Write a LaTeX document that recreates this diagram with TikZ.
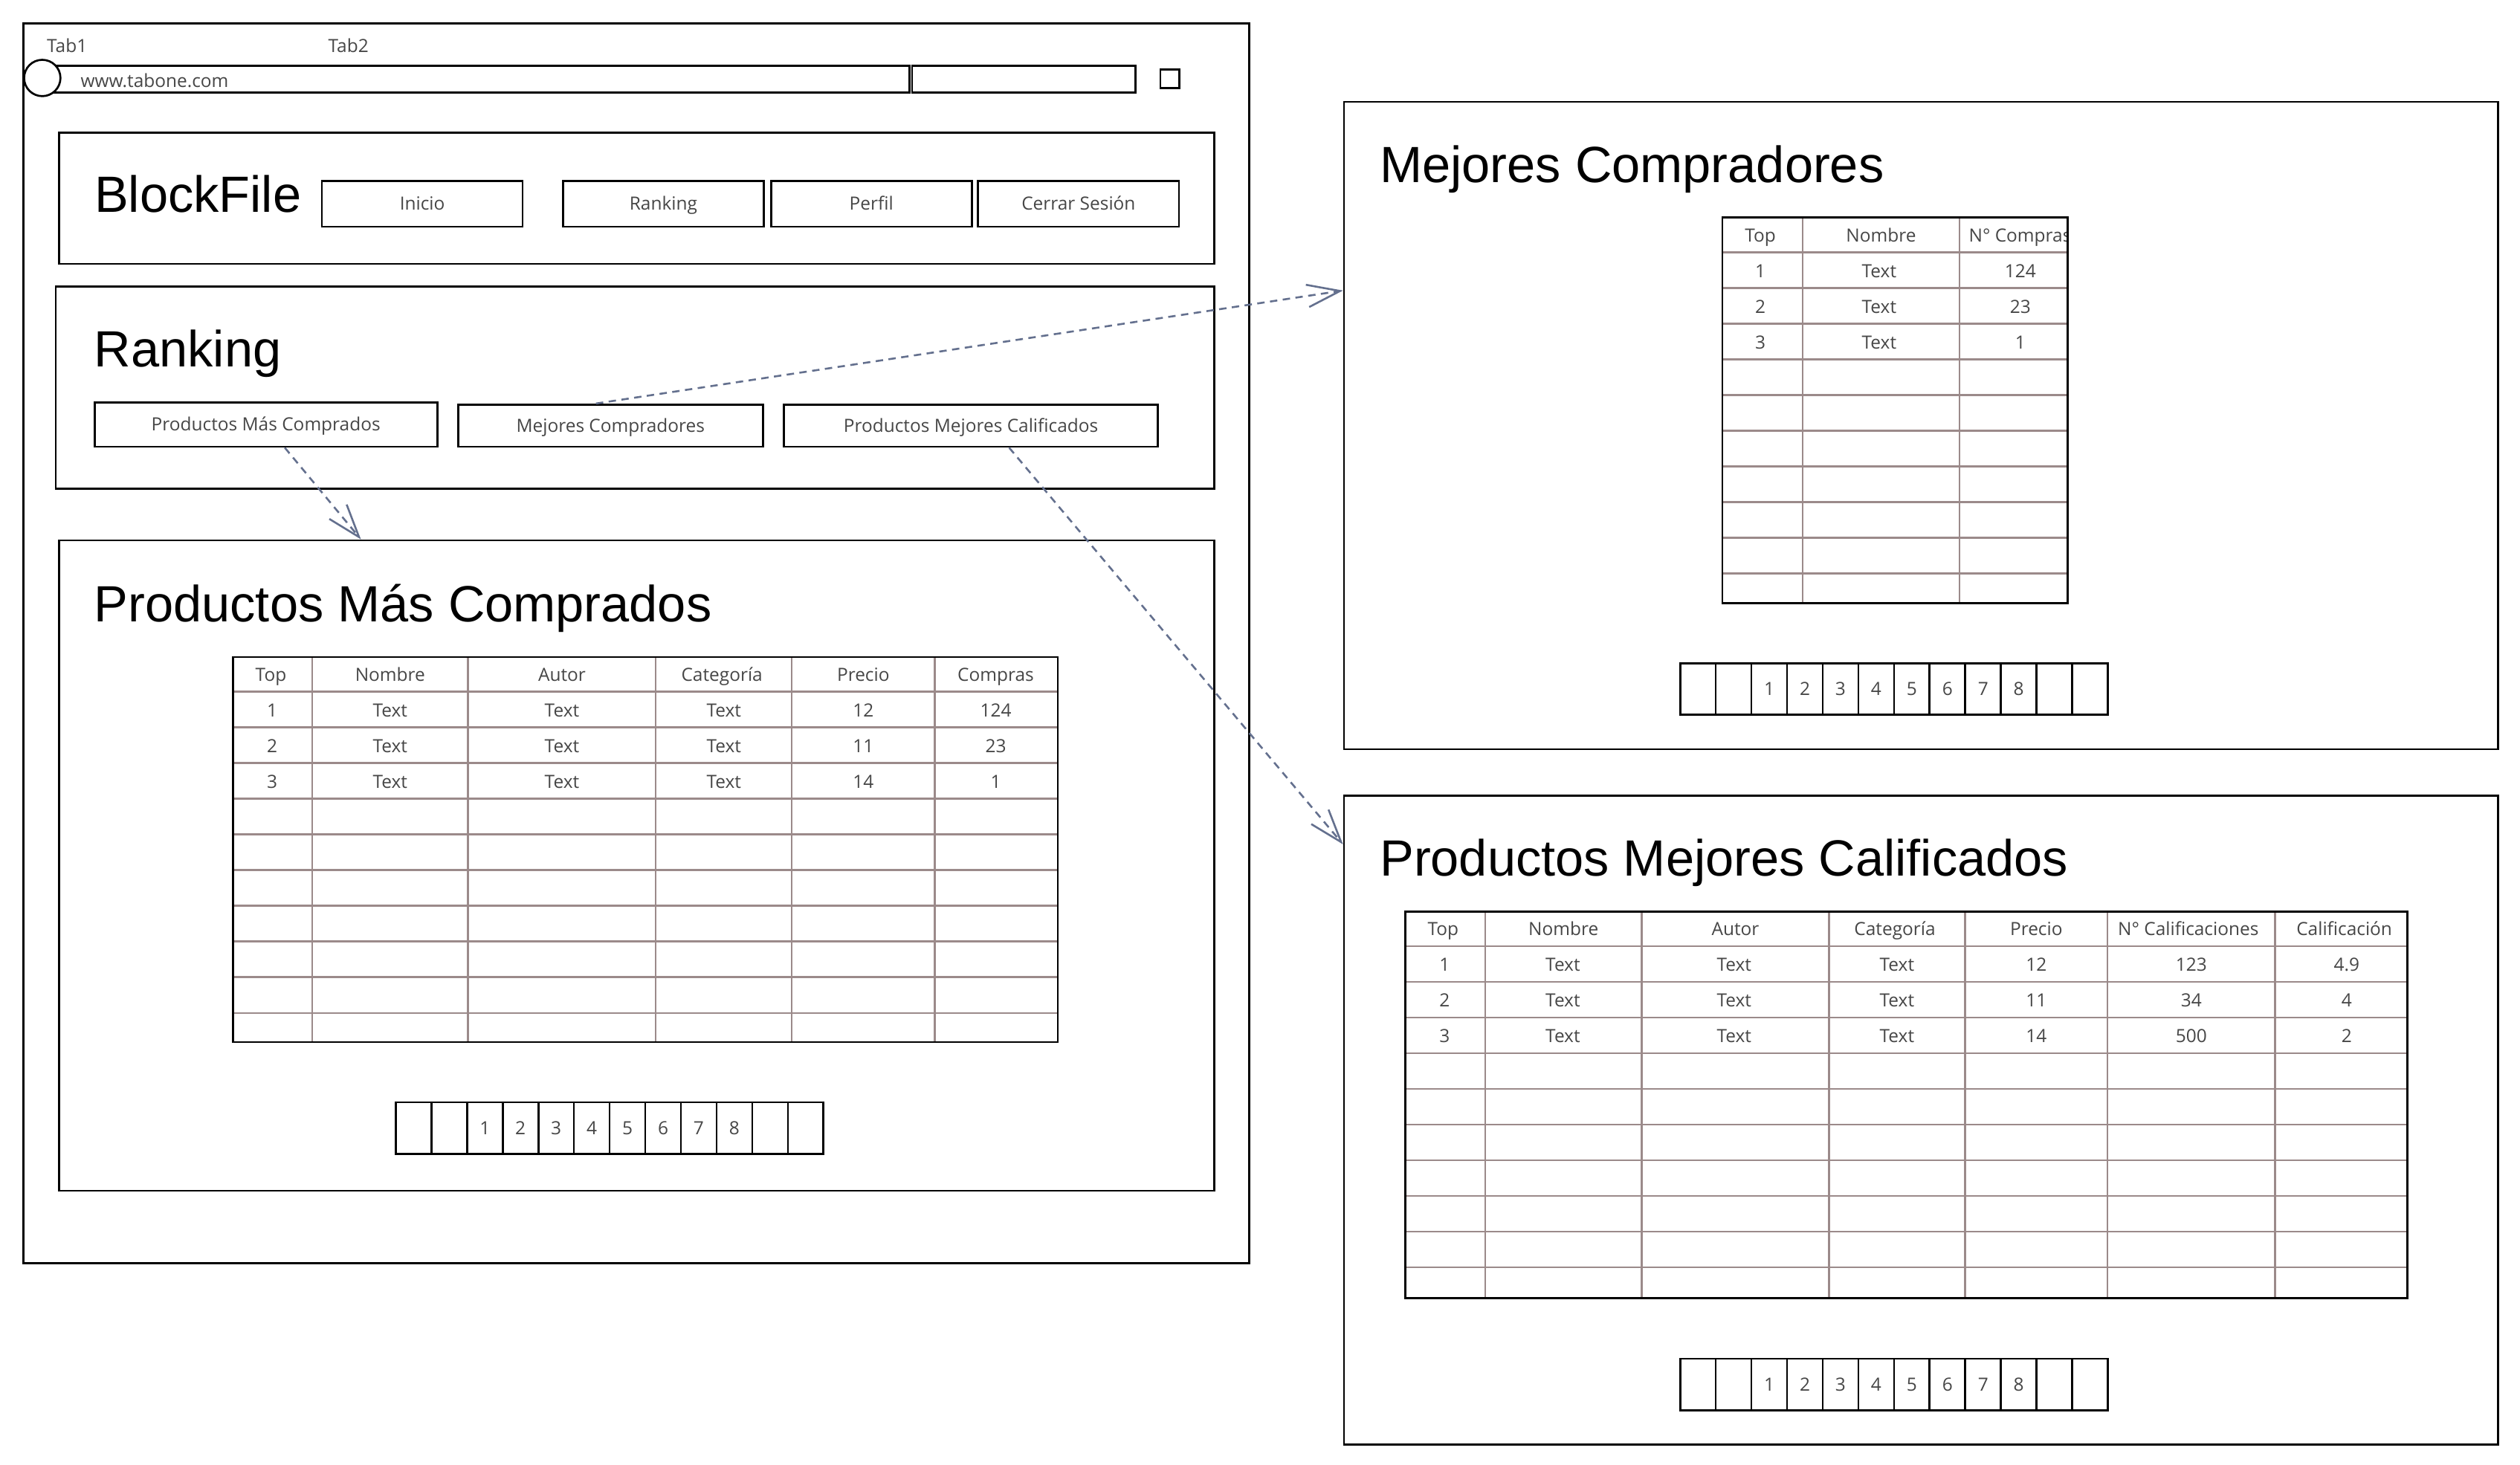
\documentclass[tikz,border=0pt]{standalone}
\usepackage{fontspec}
\setmainfont{Open Sans}
\newfontfamily\titlefont{Liberation Sans}
\usetikzlibrary{arrows.meta}
\definecolor{txt}{RGB}{70,70,70}
\definecolor{gridc}{RGB}{155,138,138}
\definecolor{arr}{RGB}{100,112,142}
\tikzset{
  box/.style={draw=black, line width=1.25pt, rectangle, inner sep=0pt, anchor=north west},
  lbl/.style={font=\fontsize{11.3}{13}\selectfont, text=txt, inner sep=0pt, text height=8pt, text depth=0pt},
  btn/.style={box, lbl},
  pgcell/.style={box, lbl, minimum width=22.17pt, minimum height=32pt},
  wtitle/.style={font=\titlefont\fontsize{31.7}{36}\selectfont, anchor=base west, inner sep=0pt, text=black},
  gridline/.style={draw=gridc, line width=1.1pt},
  link/.style={draw=arr, line width=1.2pt, dash pattern=on 4.6pt off 3.4pt,
    -{Straight Barb[length=20.5pt,width=14pt,line width=1.2pt]}},
}
\newcommand\gridtab[5]{%
  \foreach \c in {#1} {\draw[gridline] (\c,#4) -- (\c,#5);}
  \foreach \k in {1,...,10} {\draw[gridline] (#2,{#4+\k*22.2}) -- (#3,{#4+\k*22.2});}
}
\begin{document}
\begin{tikzpicture}[x=1pt,y=-1pt]
\useasboundingbox (0,0) rectangle (1567.3,911.2);

% ---------------- browser window ----------------
\node[box, minimum width=762.2pt, minimum height=771pt] (browser) at (14,14) {};
\node[lbl, anchor=west] (tab1) at (29,28.6) {Tab1};
\node[lbl, anchor=west] (tab2) at (204,28.6) {Tab2};
\node[box, minimum width=532.4pt, minimum height=16.6pt] (addr) at (32.6,40.2) {};
\node[draw=black, line width=1.25pt, circle, fill=white, minimum size=22.6pt, inner sep=0pt] (navc) at (26.3,48.5) {};
\node[lbl, anchor=base west, text height=, text depth=] (url) at (50,54.1) {www.tabone.com};
\node[box, minimum width=138.9pt, minimum height=16.6pt] (search) at (566.6,40.2) {};
\node[box, minimum width=12pt, minimum height=11.3pt] (sq) at (721,42.7) {};

% ---------------- header ----------------
\node[box, minimum width=718.5pt, minimum height=81.6pt] (hdr) at (36.1,81.9) {};
\node[wtitle] (brand) at (58.6,132.1) {BlockFile};
\node[btn, minimum width=124.8pt, minimum height=28.4pt] (bInicio) at (199.6,112) {Inicio};
\node[btn, minimum width=124.9pt, minimum height=28.4pt] (bRanking) at (349.5,112) {Ranking};
\node[btn, minimum width=124.8pt, minimum height=28.4pt] (bPerfil) at (478.9,112) {Perfil};
\node[btn, minimum width=124.9pt, minimum height=28.4pt] (bCerrar) at (607.7,112) {Cerrar Sesión};

% ---------------- ranking panel ----------------
\node[box, minimum width=720.5pt, minimum height=125.9pt] (rank) at (34.1,177.5) {};
\node[wtitle] (rankT) at (58.4,228) {Ranking};
\node[btn, minimum width=213.1pt, minimum height=27.5pt] (bPMC) at (58.2,249.7) {Productos Más Comprados};
\node[btn, minimum width=189.6pt, minimum height=26.2pt] (bMC) at (284.3,251) {Mejores Compradores};
\node[btn, minimum width=232.6pt, minimum height=26.2pt] (bPMCal) at (486.9,251) {Productos Mejores Calificados};

% ---------------- Productos Más Comprados ----------------
\node[box, minimum width=718.6pt, minimum height=404.5pt] (boxPMC) at (36,335.5) {};
\node[wtitle] (pmcT) at (58.4,386.5) {Productos Más Comprados};
\gridtab{194.2,291.1,407.9,492.5,581.3}{144.3}{657.3}{408}{647.5}
\node[box, minimum width=513pt, minimum height=239.5pt] (tPMC) at (144.3,408) {};
\foreach \x/\t [count=\i] in {168.5/Top,242.65/Nombre,349.5/Autor,449/Categoría,536.9/Precio,619.3/Compras}
  \node[lbl] (pmcH\i) at (\x,419.8) {\t};
\foreach \x/\a/\b/\c [count=\i] in {169.25/1/2/3,242.65/Text/Text/Text,349.5/Text/Text/Text,450.2/Text/Text/Text,536.9/12/11/14,619.3/124/23/1} {
  \node[lbl] (pmcA\i) at (\x,441.8) {\a};
  \node[lbl] (pmcB\i) at (\x,464) {\b};
  \node[lbl] (pmcC\i) at (\x,486.2) {\c};
}
\foreach \i/\t in {0/{},1/{},2/1,3/2,4/3,5/4,6/5,7/6,8/7,9/8,10/{},11/{}}
  \node[pgcell] (pgA\i) at ({245.5+\i*22.17},685) {\t};

% ---------------- Mejores Compradores ----------------
\node[box, minimum width=717.7pt, minimum height=402.7pt] (boxMC) at (835.3,62.7) {};
\node[wtitle] (mcT) at (858,113.5) {Mejores Compradores};
\gridtab{1121.1,1218.8}{1070.6}{1285.2}{134.7}{374.4}
\node[lbl] (mcH1) at (1094.8,146.3) {Top};
\node[lbl] (mcH2) at (1169.9,146.3) {Nombre};
\begin{scope}
  \clip (1218.8,134.7) rectangle (1285.2,156.8);
  \node[lbl, anchor=west] (mcH3) at (1224.3,146.3) {N° Compras};
\end{scope}
\node[box, minimum width=214.6pt, minimum height=239.7pt] (tMC) at (1070.6,134.7) {};
\foreach \y/\a/\c [count=\i] in {168.5/1/124,190.7/2/23,212.9/3/1} {
  \node[lbl] (mcR\i a) at (1094.8,\y) {\a};
  \node[lbl] (mcR\i b) at (1168.7,\y) {Text};
  \node[lbl] (mcR\i c) at (1256.5,\y) {\c};
}
\foreach \i/\t in {0/{},1/{},2/1,3/2,4/3,5/4,6/5,7/6,8/7,9/8,10/{},11/{}}
  \node[pgcell] (pgB\i) at ({1044.3+\i*22.17},412) {\t};

% ---------------- Productos Mejores Calificados ----------------
\node[box, minimum width=717.7pt, minimum height=403.8pt] (boxPMCal) at (835.3,494.2) {};
\node[wtitle] (pmcalT) at (858,544.8) {Productos Mejores Calificados};
\gridtab{923.7,1021.1,1137.5,1222.1,1310.8,1414.9}{873.3}{1496.6}{566.3}{806.9}
\node[box, minimum width=623.3pt, minimum height=240.6pt] (tPMCal) at (873.3,566.3) {};
\foreach \x/\t [count=\i] in {897.5/Top,972.4/Nombre,1079.3/Autor,1178.5/Categoría,1266.45/Precio,1361/N° Calificaciones,1458/Calificación}
  \node[lbl] (pcH\i) at (\x,577.9) {\t};
\foreach \x/\a/\b/\c [count=\i] in {898.5/1/2/3,972/Text/Text/Text,1078.5/Text/Text/Text,1179.8/Text/Text/Text,1266.45/12/11/14,1362.85/123/34/500,1459.5/4.9/4/2} {
  \node[lbl] (pcA\i) at (\x,600.1) {\a};
  \node[lbl] (pcB\i) at (\x,622.3) {\b};
  \node[lbl] (pcC\i) at (\x,644.5) {\c};
}
\foreach \i/\t in {0/{},1/{},2/1,3/2,4/3,5/4,6/5,7/6,8/7,9/8,10/{},11/{}}
  \node[pgcell] (pgC\i) at ({1044.3+\i*22.17},844.5) {\t};

% ---------------- links ----------------
\draw[link] ([xshift=11.75pt]bPMC.south) -- ([xshift=188.5pt]boxPMC.north west);
\draw[link] ([xshift=-9.1pt]bMC.north) -- ([yshift=-118pt]boxMC.north west);
\draw[link] ([xshift=23.8pt]bPMCal.south) -- ([yshift=-31pt]boxPMCal.north west);
\end{tikzpicture}
\end{document}
